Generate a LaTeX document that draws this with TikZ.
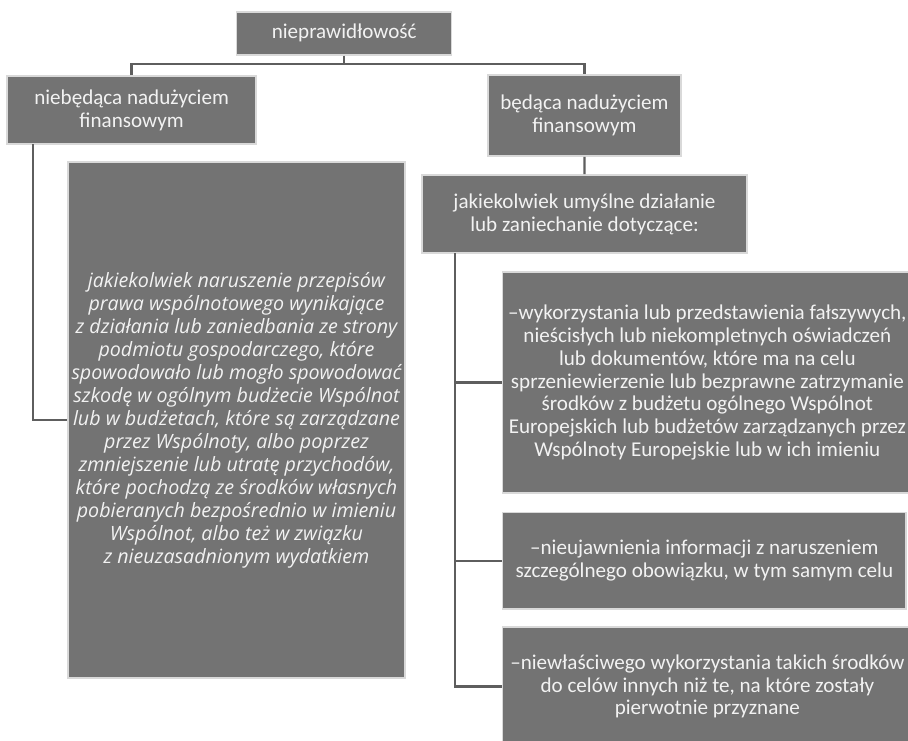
\documentclass[tikz,border=0pt]{standalone}
\usepackage{fontspec}
\setmainfont{Carlito}
\newfontfamily\wideit{Open Sans}
\usepackage{tikz}
\usepackage{xcolor}
\usetikzlibrary{positioning,calc}
\definecolor{cFill}{HTML}{737373}
\definecolor{cEdge}{HTML}{D9D9D9}
\definecolor{cLine}{HTML}{5E5E5E}
\definecolor{cText}{HTML}{F2F2F2}
\tikzset{
  box/.style  ={rectangle,draw=cEdge,fill=cFill,line width=0.9pt,text=cText,
                align=center,inner sep=2pt,
                font=\fontsize{12}{13}\selectfont},
  itbox/.style={box,font=\wideit\itshape\fontsize{11.2}{13.1}\selectfont},
  link/.style ={draw=cLine,line width=1.3pt},
}

\begin{document}
\begin{tikzpicture}
\useasboundingbox (0,0) rectangle (18.16,-14.8);
% tree root and its two kinds
\node[box,minimum width=4.30cm,minimum height=0.86cm] (root) at (6.884,-0.666) {nieprawidłowość};
\node[box,minimum width=4.98cm,minimum height=1.36cm] (nonfraud) at (2.632,-2.20) {niebędąca nadużyciem\\finansowym};
\node[box,minimum width=3.86cm,minimum height=1.62cm] (fraud) at (11.688,-2.31) {będąca nadużyciem\\finansowym};
% left branch
\node[itbox,minimum width=6.66cm,minimum height=10.32cm] (defn) at (4.73,-8.40) {jakiekolwiek naruszenie przepisów\\
  prawa wspólnotowego wynikające\\
  z działania lub zaniedbania ze strony\\
  podmiotu gospodarczego, które\\
  spowodowało lub mogło spowodować\\
  szkodę w ogólnym budżecie Wspólnot\\
  lub w budżetach, które są zarządzane\\
  przez Wspólnoty, albo poprzez\\
  zmniejszenie lub utratę przychodów,\\
  które pochodzą ze środków własnych\\
  pobieranych bezpośrednio w imieniu\\
  Wspólnot, albo też w związku\\
  z nieuzasadnionym wydatkiem};
% right branch
\node[box,minimum width=6.50cm,minimum height=1.56cm] (act) at (11.69,-4.28) {jakiekolwiek umyślne działanie\\lub zaniechanie dotyczące:};
\node[box,minimum width=8.186cm,minimum height=4.42cm] (use) at (14.147,-7.65) {–wykorzystania lub przedstawienia fałszywych,\\
  nieścisłych lub niekompletnych oświadczeń\\
  lub dokumentów, które ma na celu\\
  sprzeniewierzenie lub bezprawne zatrzymanie\\
  środków z budżetu ogólnego Wspólnot\\
  Europejskich lub budżetów zarządzanych przez\\
  Wspólnoty Europejskie lub w ich imieniu};
\node[box,minimum width=8.066cm,minimum height=1.93cm] (hide) at (14.087,-11.214) {–nieujawnienia informacji z naruszeniem\\
  szczególnego obowiązku, w tym samym celu};
\node[box,minimum width=8.186cm,minimum height=2.38cm] (misuse) at (14.147,-13.73) {–niewłaściwego wykorzystania takich środków\\
  do celów innych niż te, na które zostały\\
  pierwotnie przyznane};
% connectors
\coordinate (bus) at (6.884,-1.286);
\coordinate (lspine) at (0.654,-2.88);
\coordinate (rspine) at (9.10,-5.06);
\draw[link] (root.south) -- (bus);
\draw[link] (nonfraud.north) |- (bus) -| (fraud.north);
\draw[link] (lspine) |- (defn.west);
\draw[link] (fraud.south) -- (act.north);
\draw[link] (rspine) |- (use.west);
\draw[link] (rspine) |- (hide.west);
\draw[link] (rspine) |- (misuse.west);
\end{tikzpicture}
\end{document}
